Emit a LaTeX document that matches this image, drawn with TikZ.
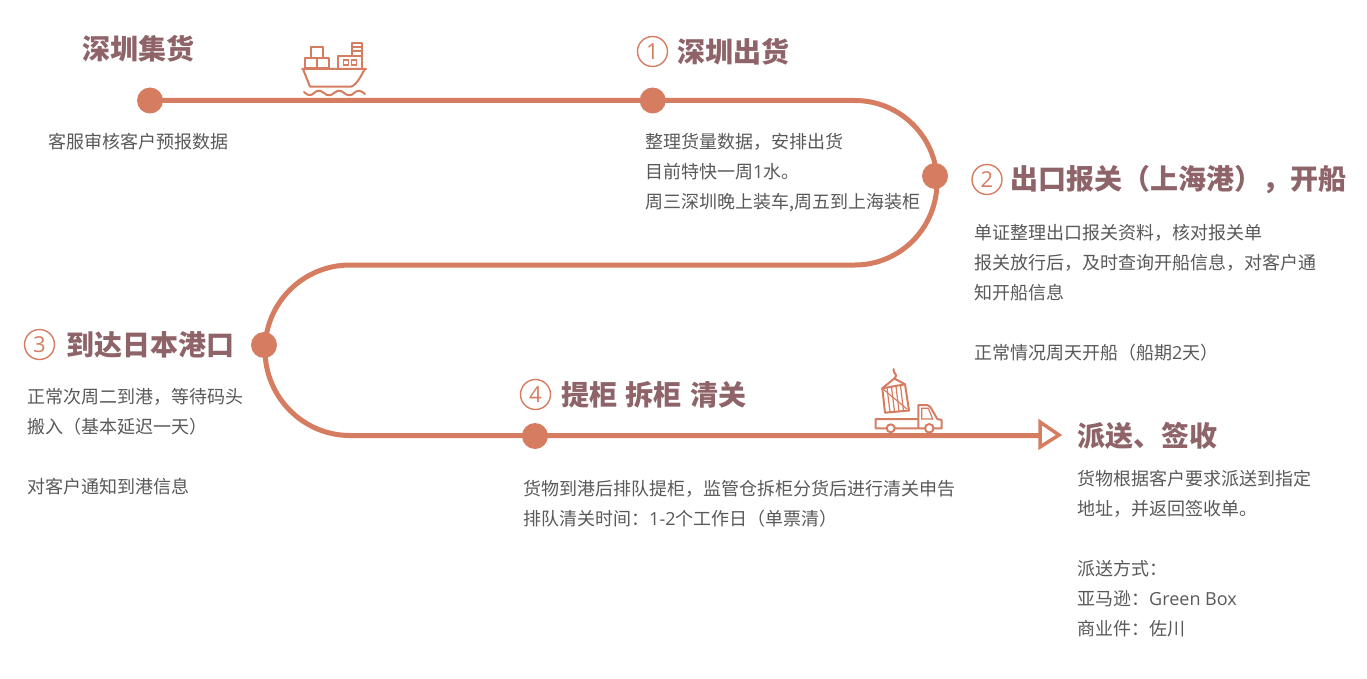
\documentclass[tikz,border=0pt]{standalone}
\usepackage{fontspec}
\setmainfont{Noto Sans CJK SC}
\newfontfamily\numfont{Open Sans}
\definecolor{route}{HTML}{D67D61}
\definecolor{heading}{HTML}{8E6468}
\definecolor{bodytext}{HTML}{595959}
\tikzset{
  routeline/.style={draw=route,line width=5pt},
  dot/.style={circle,fill=route,minimum size=26pt,inner sep=0pt},
  numring/.style={circle,draw=route,line width=1.4pt,minimum size=30pt,inner sep=0pt,text=route,font=\numfont\fontsize{22}{24}\selectfont},
  title/.style={anchor=west,inner sep=0pt,text=heading,font=\fontsize{28}{32}\selectfont\bfseries},
  body/.style={anchor=north west,inner sep=0pt,align=left,text=bodytext,font=\fontsize{18}{30}\selectfont},
  icon/.style={draw=route,line width=2pt,line join=round,line cap=round},
  iconthin/.style={draw=route,line width=1.2pt,line cap=round},
}
\begin{document}
\begin{tikzpicture}[x=1pt,y=-1pt]
\useasboundingbox (0,0) rectangle (1367,679);
\fill[white] (0,0) rectangle (1367,679);
% route
\coordinate (c1) at (855,100.5);
\coordinate (c2) at (937,182);
\coordinate (c3) at (855,265);
\coordinate (c4) at (350,265);
\coordinate (c5) at (265,350);
\coordinate (c6) at (350,435.5);
\coordinate (arrowbase) at (1039,435.5);
\coordinate (arrowtop) at (1040,422);
\coordinate (arrowtip) at (1059,435);
\coordinate (arrowbot) at (1040,447);
\node[dot] (d0) at (150,100.5) {};
\node[dot] (d1) at (652.7,100.5) {};
\node[dot] (d2) at (935,176) {};
\node[dot] (d3) at (264,345) {};
\node[dot] (d4) at (535,436) {};
\draw[routeline] (d0.center) -- (d1.center) -- (c1)
  .. controls (900,100.5) and (937,137) .. (c2)
  .. controls (937,228) and (900,265) .. (c3) -- (c4)
  .. controls (303,265) and (265,303) .. (c5)
  .. controls (265,397) and (303,435.5) .. (c6) -- (arrowbase);
\draw[draw=route,line width=3.5pt,fill=white,line join=miter] (arrowtop) -- (arrowtip) -- (arrowbot) -- cycle;
% titles
\node[title] (t0) at (82,48.5) {深圳集货};
\node[numring] (n1) at (652.5,51.5) {1};
\node[title] (t1) at (677,51.5) {深圳出货};
\node[numring] (n2) at (987,179.5) {2};
\node[title] (t2) at (1010,179.5) {出口报关（上海港），开船};
\node[numring] (n3) at (39.5,344.5) {3};
\node[title] (t3) at (66,344.5) {到达日本港口};
\node[numring] (n4) at (535.5,394.5) {4};
\node[title] (t4) at (561,394.5) {提柜\hspace{8.5pt}拆柜\hspace{8.5pt}清关};
\node[title] (t5) at (1077,435.5) {派送、签收};
% body
\node[body] (b0) at (48,133) {客服审核客户预报数据};
\node[body] (b1) at (645,133) {整理货量数据，安排出货\\目前特快一周{\numfont 1}水。\\周三深圳晚上装车,周五到上海装柜};
\node[body] (b2) at (974,224) {单证整理出口报关资料，核对报关单\\报关放行后，及时查询开船信息，对客户通\\知开船信息\\~\\正常情况周天开船（船期{\numfont 2}天）};
\node[body] (b3) at (27,388) {正常次周二到港，等待码头\\搬入（基本延迟一天）\\~\\对客户通知到港信息};
\node[body] (b4) at (523,480) {货物到港后排队提柜，监管仓拆柜分货后进行清关申告\\排队清关时间：{\numfont 1-2}个工作日（单票清）};
\node[body] (b5) at (1077,470) {货物根据客户要求派送到指定\\地址，并返回签收单。\\~\\派送方式：\\亚马逊：{\numfont Green Box}\\商业件：佐川};
% ship icon
\draw[icon] (302,69) -- (366,69) (303,69) -- (310,86.7) -- (351,86.7) .. controls (358,84) and (361,75) .. (365,69);
\draw[icon] (311.3,47.3) rectangle (323.3,58.3);
\draw[icon] (305,58.3) rectangle (317.3,68.3);
\draw[icon] (317.3,58.3) rectangle (329,68.3);
\draw[icon] (338.3,69) -- (338.3,56) -- (361.7,56) -- (361.7,69);
\draw[icon] (352,56) -- (352,43) -- (361.7,43) -- (361.7,56) (352,47.5) -- (361.7,47.5) (352,51.5) -- (361.7,51.5);
\draw[iconthin] (343.3,60) rectangle (348.3,65);
\draw[iconthin] (351.7,60) rectangle (356.7,65);
\draw[icon] (304,92) .. controls (308,96) and (311,96) .. (314,93) .. controls (317,90) and (320,90) .. (324,93) .. controls (327,96) and (331,96) .. (334,93) .. controls (338,90) and (341,90) .. (344,93) .. controls (348,96) and (351,96) .. (354,93) .. controls (357,90) and (361,90) .. (365,94);
% truck icon
\draw[icon,fill=white] (918.3,419) -- (875.7,419) -- (875.7,428.3) -- (941.7,428.3) -- (941.7,420) -- (937.3,419) -- (930,406.5) .. controls (929,405.5) and (928.5,405) .. (927,405) -- (918.3,405) -- (918.3,428.3);
\draw[iconthin] (921.7,408.3) -- (928.3,408.3) -- (932.7,419) -- (921.7,419) -- cycle;
\draw[icon,fill=white] (890.7,428.3) circle (4);
\draw[icon,fill=white] (929.3,428.3) circle (4.3);
% crate icon
\draw[icon] (882.3,388.3) -- (905,384.3) -- (909,410.5) -- (885,412.7) -- cycle;
\draw[iconthin] (887,388) -- (890,412) (891.5,387) -- (894.5,412) (896,386.5) -- (899,411.5) (900.5,385.5) -- (903.5,411);
\draw[iconthin] (883,389) -- (907,409);
\draw[icon] (882.3,388.3) -- (894.3,378.5) -- (905,384.3);
\draw[icon] (894.3,378.5) .. controls (897,376) and (896,374) .. (894,372) -- (893.5,369);
\end{tikzpicture}
\end{document}
